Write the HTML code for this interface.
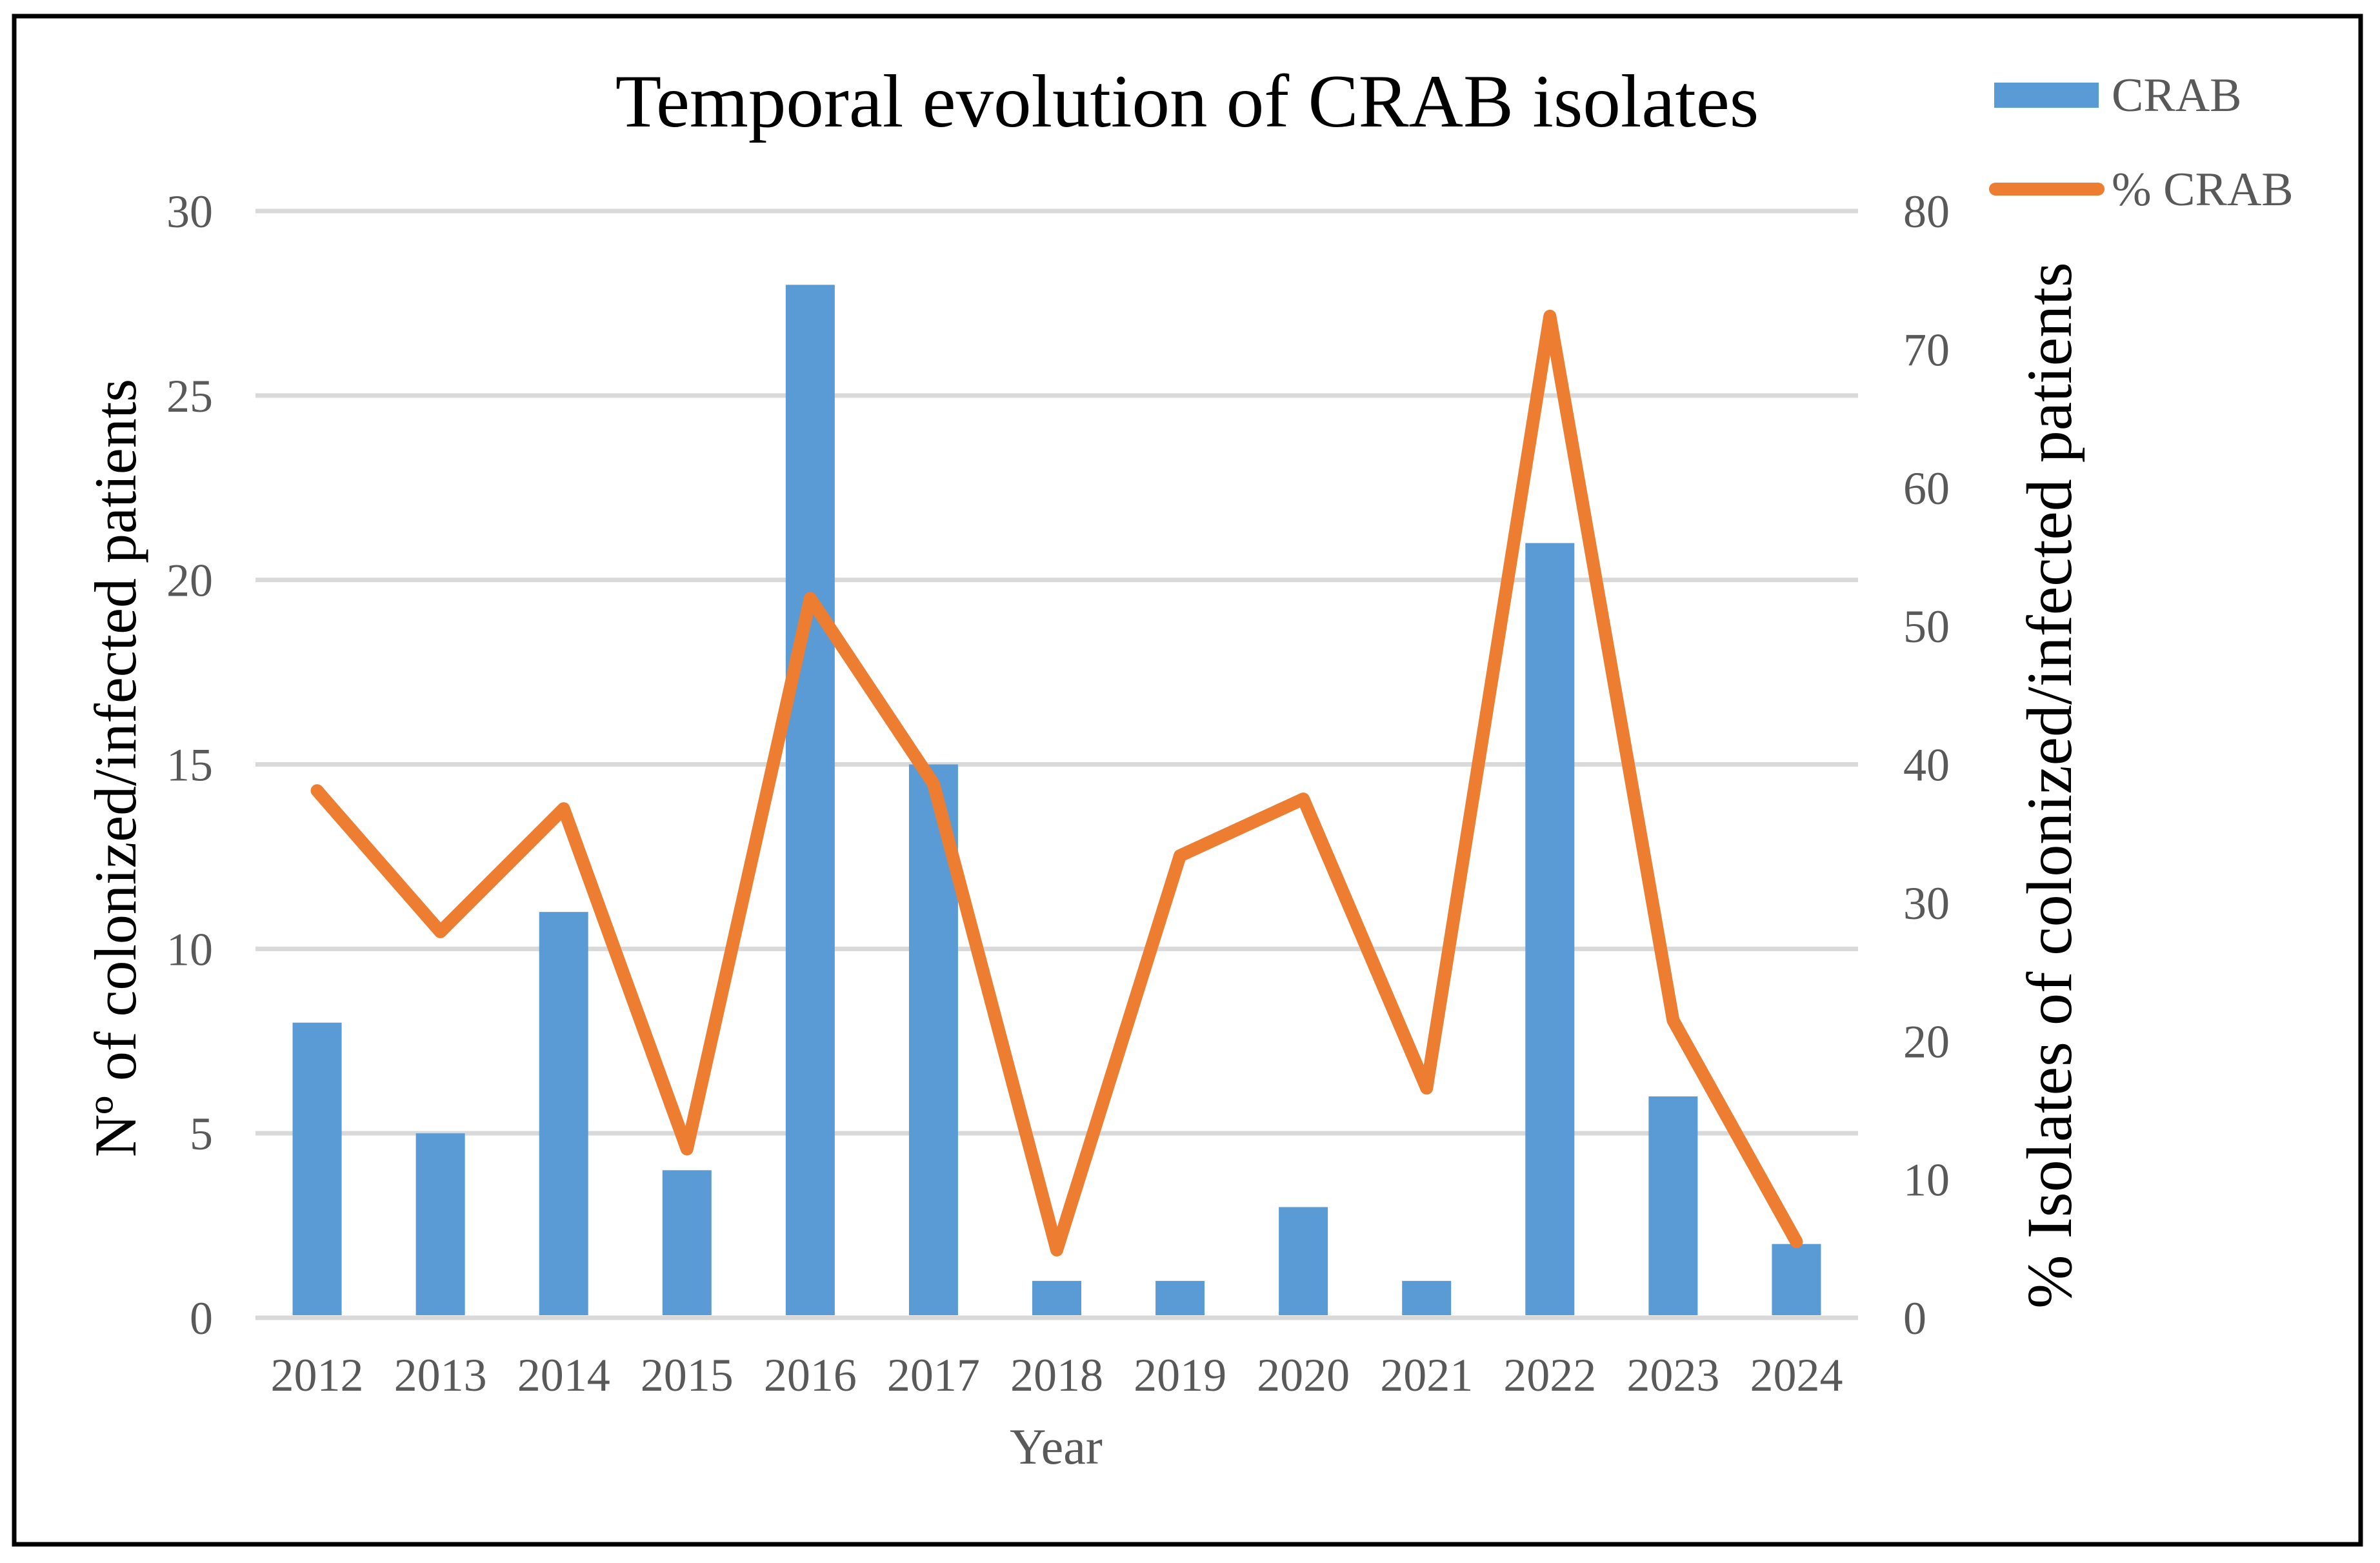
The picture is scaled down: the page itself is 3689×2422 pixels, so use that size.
<!DOCTYPE html>
<html><head><meta charset="utf-8"><style>
html,body{margin:0;padding:0;background:#fff;}
svg{display:block;}
text{font-family:"Liberation Serif",serif;}
</style></head><body>
<svg id="chart" width="3689" height="2422" viewBox="0 0 3689 2422" xmlns="http://www.w3.org/2000/svg">
<rect x="22" y="25" width="3637" height="2368" fill="#fff" stroke="#000" stroke-width="7"/>
<text x="1840" y="196" font-size="117" text-anchor="middle" fill="#000">Temporal evolution of CRAB isolates</text>
<g id="grid"></g><g id="bars"></g><g id="line"></g><g id="ticks"></g>
<text x="1637" y="2268" font-size="78" text-anchor="middle" fill="#595959">Year</text>
<text transform="translate(210,1190) rotate(-90)" font-size="92" text-anchor="middle" fill="#000">Nº of colonized/infected patients</text>
<text transform="translate(3210,1217) rotate(-90)" font-size="100" text-anchor="middle" fill="#000">% Isolates of colonized/infected patients</text>
<g>
<rect x="3091" y="128" width="162" height="39" fill="#5b9bd5"/>
<text x="3273" y="172" font-size="74" fill="#595959">CRAB</text>
<line x1="3093" y1="293" x2="3252" y2="293" stroke="#ed7d31" stroke-width="20" stroke-linecap="round"/>
<text x="3273" y="318" font-size="74" fill="#595959">% CRAB</text>
</g>
</svg>
<script>
const categories=["2012","2013","2014","2015","2016","2017","2018","2019","2020","2021","2022","2023","2024"];
const crabCounts=[8,5,11,4,28,15,1,1,3,1,21,6,2];
const crabPercent=[38.1,27.9,36.8,12.2,52.0,38.6,4.9,33.4,37.5,16.6,72.4,21.5,5.5];
const leftTicks=[0,5,10,15,20,25,30];
const rightTicks=[0,10,20,30,40,50,60,70,80];
const NS="http://www.w3.org/2000/svg";
const X0=396,X1=2880,Y0=2042,Y1=327;
const bw=(X1-X0)/categories.length;
function xc(i){return X0+bw*(i+0.5);}
function yl(v){return Y0-(v/30)*(Y0-Y1);}
function yr(v){return Y0-(v/80)*(Y0-Y1);}
function mk(tag,attrs,parent){const e=document.createElementNS(NS,tag);for(const k in attrs)e.setAttribute(k,attrs[k]);document.getElementById(parent).appendChild(e);return e;}
leftTicks.forEach(v=>{
  const g=mk('line',{x1:X0,x2:X1,y1:yl(v),y2:yl(v),stroke:'#d9d9d9','stroke-width':7},'grid');
  
  
  const t=mk('text',{x:330,y:yl(v)+25,'font-size':72,'text-anchor':'end',fill:'#595959'},'ticks');
  t.textContent=v;
  
  
});
rightTicks.forEach(v=>{
  const t=mk('text',{x:2950,y:yr(v)+25,'font-size':72,'text-anchor':'start',fill:'#595959'},'ticks');
  t.textContent=v;
  
  
});
categories.forEach((c,i)=>{
  const h=Y0-yl(crabCounts[i]);
  const b=mk('rect',{x:xc(i)-38,y:yl(crabCounts[i]),width:76,height:h-4,fill:'#5b9bd5'},'bars');
  
  
  const t=mk('text',{x:xc(i),y:2155,'font-size':72,'text-anchor':'middle',fill:'#595959'},'ticks');
  t.textContent=c;
  
  
});
const pts=crabPercent.map((v,i)=>xc(i)+','+yr(v)).join(' ');
const pl=mk('polyline',{points:pts,fill:'none',stroke:'#ed7d31','stroke-width':20,'stroke-linejoin':'round','stroke-linecap':'round'},'line');


</script>
</body></html>
